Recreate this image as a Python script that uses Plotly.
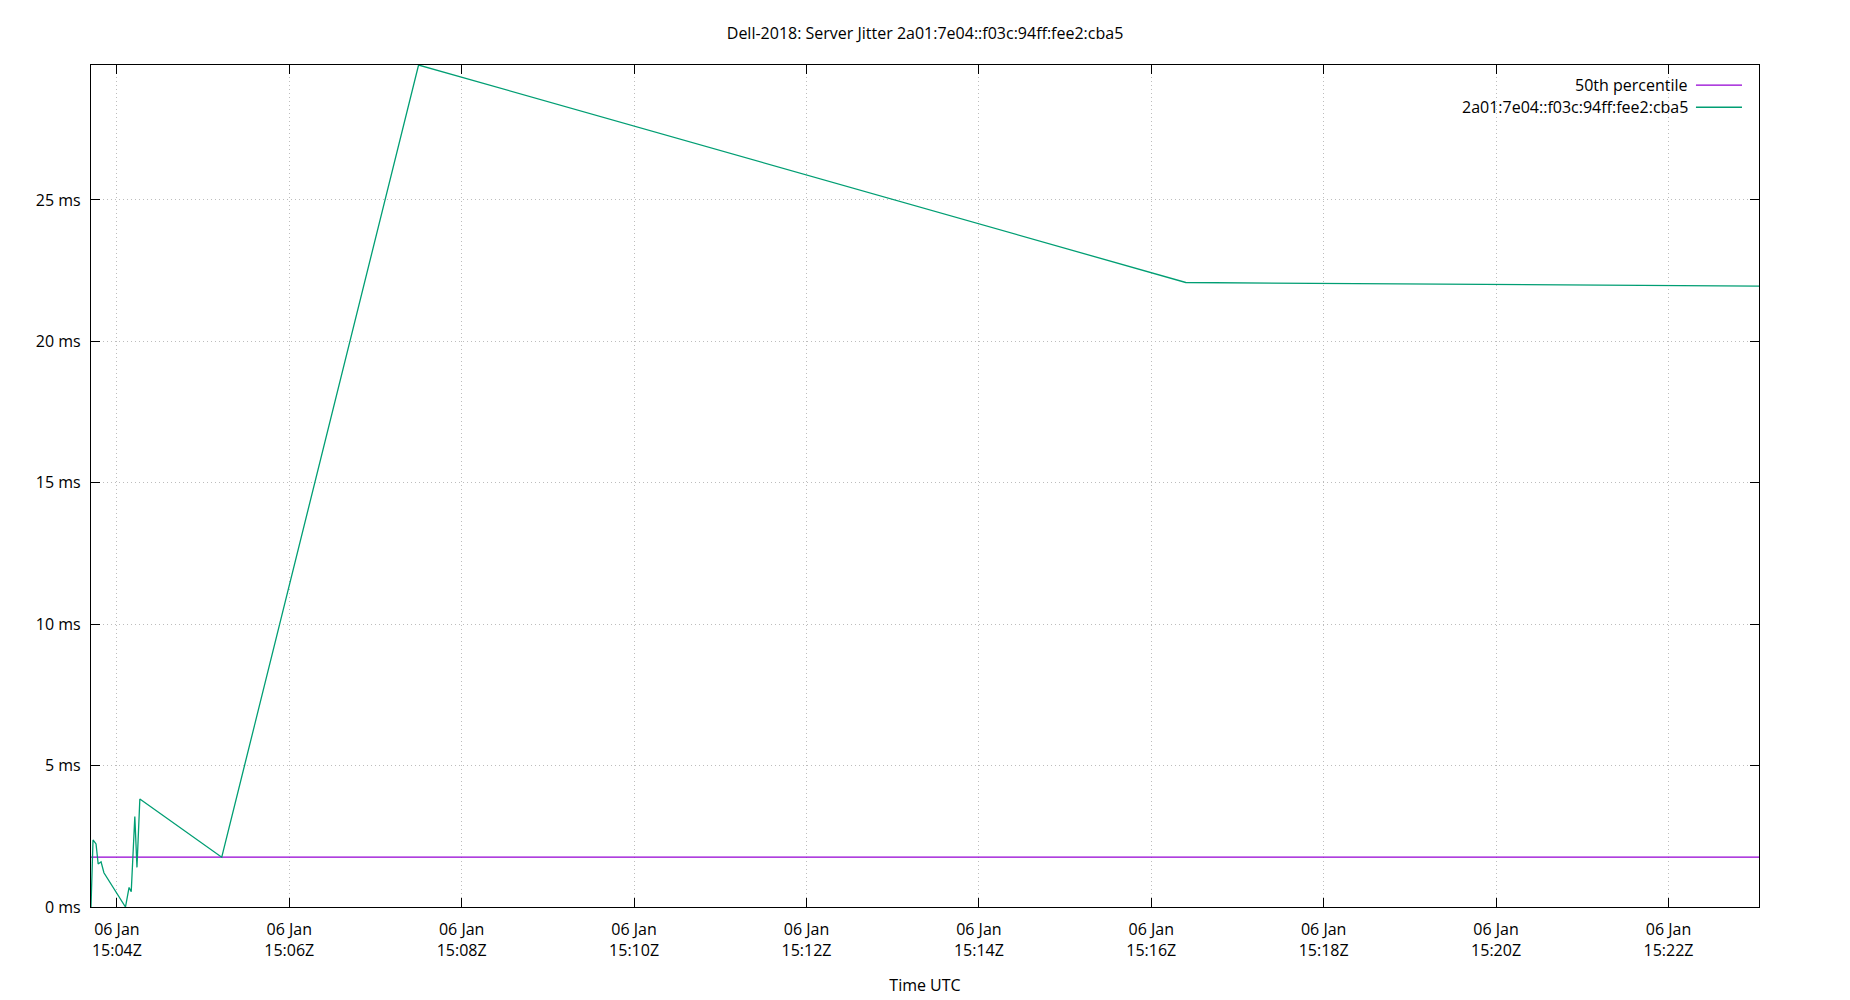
import plotly.graph_objects as go

# ---- data ----
times = [
    "2024-01-06 15:03:42", "2024-01-06 15:03:43.4", "2024-01-06 15:03:45.5",
    "2024-01-06 15:03:47", "2024-01-06 15:03:49", "2024-01-06 15:03:51",
    "2024-01-06 15:04:06", "2024-01-06 15:04:08.5", "2024-01-06 15:04:10",
    "2024-01-06 15:04:12.5", "2024-01-06 15:04:14", "2024-01-06 15:04:16",
    "2024-01-06 15:05:13", "2024-01-06 15:07:30", "2024-01-06 15:16:24",
    "2024-01-06 15:23:03",
]
jitter_ms = [0.0, 2.37, 2.23, 1.52, 1.60, 1.21, 0.0, 0.69, 0.54, 3.20, 1.40,
             3.82, 1.76, 29.77, 22.08, 21.95]
percentile_50 = 1.76
series_name = "2a01:7e04::f03c:94ff:fee2:cba5"
percentile_name = "50th percentile"
title_text = "Dell-2018: Server Jitter 2a01:7e04::f03c:94ff:fee2:cba5"
y_ticks = [0, 5, 10, 15, 20, 25]

PURPLE = "#9400d3"
GREEN = "#009e73"
FONT = "Open Sans"
FS = 16

fig = go.Figure()
fig.add_trace(go.Scatter(
    x=[times[0], times[-1]], y=[percentile_50, percentile_50],
    mode="lines", name=percentile_name,
    line=dict(color=PURPLE, width=1.3), showlegend=False))
fig.add_trace(go.Scatter(
    x=times, y=jitter_ms, mode="lines", name=series_name,
    line=dict(color=GREEN, width=1.3), showlegend=False))

axis_common = dict(
    showline=True, linecolor="black", linewidth=1.3, mirror="ticks",
    ticks="inside", ticklen=9, tickcolor="black", tickwidth=1,
    showgrid=True, gridcolor="#bdbdbd", griddash="1px,3px", gridwidth=1,
    zeroline=False, tickfont=dict(family=FONT, size=FS, color="black"),
)

fig.update_xaxes(
    **axis_common,
    type="date", range=[times[0], times[-1]],
    tick0="2024-01-06 15:04:00", dtick=120000,
    tickformat="%d %b<br>%H:%MZ", ticklabelstandoff=8,
    title=dict(text="Time UTC", font=dict(family=FONT, size=FS, color="black"),
               standoff=19),
)
fig.update_yaxes(
    **axis_common,
    range=[0, max(jitter_ms)], tickvals=y_ticks,
    ticktext=[f"{v} ms" for v in y_ticks], ticklabelstandoff=6,
)

# gnuplot-style legend: text right-aligned, sample line on the right
legend_rows = [(percentile_name, PURPLE, 0.9762), (series_name, GREEN, 0.9498)]
for label, color, yy in legend_rows:
    fig.add_annotation(xref="paper", yref="paper", x=0.9589, y=yy,
                       text=label, showarrow=False, xanchor="right",
                       yanchor="middle",
                       font=dict(family=FONT, size=FS, color="black"))
    fig.add_shape(type="line", xref="paper", yref="paper",
                  x0=0.9622, x1=0.9898, y0=yy, y1=yy,
                  line=dict(color=color, width=1.3))

# the page body adds an 8px offset; margins compensate for it
fig.update_layout(
    width=1850, height=1000,
    margin=dict(l=83, r=99, t=57, b=101),
    paper_bgcolor="white", plot_bgcolor="white",
    title=dict(text=title_text, x=0.4957, xanchor="center", y=0.9745,
               yanchor="middle", font=dict(family=FONT, size=FS, color="black")),
    font=dict(family=FONT, size=FS, color="black"),
)

fig.write_html("out.html")
